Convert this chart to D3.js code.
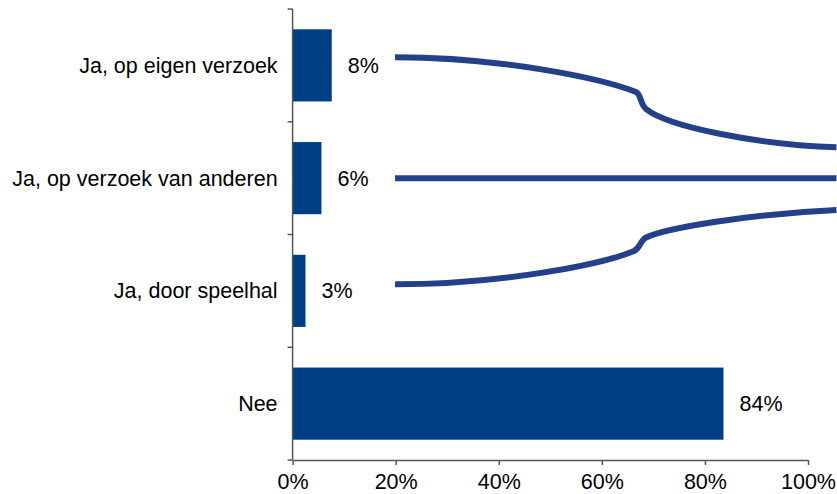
<!DOCTYPE html>
<html>
<head>
<meta charset="utf-8">
<script src="https://cdn.jsdelivr.net/npm/d3@7"></script>
<style>
  html, body { margin: 0; padding: 0; background: #fff; }
  svg { display: block; font-family: "Liberation Sans", Arial, sans-serif; }
</style>
</head>
<body>
<svg id="chart" width="837" height="494"></svg>
<script>
// ---- data ----
const categories = ["Ja, op eigen verzoek", "Ja, op verzoek van anderen", "Ja, door speelhal", "Nee"];
const values = [7.6, 5.6, 2.5, 83.6];
const valueLabels = ["8%", "6%", "3%", "84%"];
const xTicks = [0, 20, 40, 60, 80, 100];
// decorative connectors (cubic Bezier segments): x in %, y in category-band units (0 = top of plot, 4 = bottom)
const connectorTopStart = [19.88, 0.4284];
const connectorTop = [
  [[40.25, 0.4284], [59.65, 0.6120], [66.63, 0.7361]],
  [[67.60, 0.7539], [67.41, 0.8426], [68.57, 0.8869]],
  [[72.84, 1.0466], [90.69, 1.2062], [105.53, 1.2266]]
];
const connectorMidStart = [19.88, 1.5016];
const connectorMid = [
  [[50.0, 1.5016], [80.0, 1.5016], [105.53, 1.5016]]
];
const connectorBottomStart = [19.88, 2.4417];
const connectorBottom = [
  [[40.25, 2.4417], [59.65, 2.2705], [66.25, 2.1463]],
  [[67.41, 2.1197], [67.22, 2.0754], [68.38, 2.0310]],
  [[72.26, 1.9424], [88.75, 1.8182], [105.53, 1.7827]]
];

(function () {
// ---- layout ----
const pLeft = 292.6, pRight = 808, pTop = 9, pBottom = 460;
const svg = d3.select("#chart");
const x = d3.scaleLinear().domain([0, 100]).range([pLeft, pRight]);
const y = d3.scaleBand().domain(categories).range([pTop, pBottom]).paddingInner(0.36).paddingOuter(0.18);
const yUnit = d3.scaleLinear().domain([0, 4]).range([pTop, pBottom]);

const barColor = "#003f84";
const lineColor = "#25408a";
const axisColor = "#555";
const fontSize = 21.5;

// bars
svg.append("g").selectAll("rect").data(categories).join("rect")
  .attr("x", x(0))
  .attr("y", d => y(d))
  .attr("width", (d, i) => x(values[i]) - x(0))
  .attr("height", y.bandwidth())
  .attr("fill", barColor);

// value labels
svg.append("g").selectAll("text").data(categories).join("text")
  .attr("x", (d, i) => x(values[i]) + 16)
  .attr("y", d => y(d) + y.bandwidth() / 2)
  .attr("dy", "0.35em")
  .attr("font-size", fontSize)
  .attr("fill", "#000")
  .text((d, i) => valueLabels[i]);

// category labels
svg.append("g").selectAll("text").data(categories).join("text")
  .attr("x", pLeft - 15)
  .attr("y", d => y(d) + y.bandwidth() / 2)
  .attr("dy", "0.35em")
  .attr("text-anchor", "end")
  .attr("font-size", fontSize)
  .attr("fill", "#000")
  .text(d => d);

// connectors
function connectorPath(start, segs) {
  const p = d3.path();
  p.moveTo(x(start[0]), yUnit(start[1]));
  segs.forEach(s => p.bezierCurveTo(x(s[0][0]), yUnit(s[0][1]), x(s[1][0]), yUnit(s[1][1]), x(s[2][0]), yUnit(s[2][1])));
  return p.toString();
}
svg.append("g").selectAll("path")
  .data([[connectorTopStart, connectorTop], [connectorMidStart, connectorMid], [connectorBottomStart, connectorBottom]])
  .join("path")
  .attr("d", d => connectorPath(d[0], d[1]))
  .attr("fill", "none")
  .attr("stroke", lineColor)
  .attr("stroke-width", 6);

// x axis
const xAxis = svg.append("g").attr("transform", `translate(0,${pBottom})`)
  .call(d3.axisBottom(x).tickValues(xTicks).tickFormat(d => d + "%").tickSize(5).tickSizeOuter(0).tickPadding(9));
xAxis.select(".domain").attr("stroke", axisColor).attr("stroke-width", 1.5);
xAxis.selectAll(".tick line").attr("stroke", axisColor).attr("stroke-width", 1.5);
xAxis.selectAll(".tick text").attr("font-size", fontSize).attr("fill", "#000")
  .attr("font-family", "Liberation Sans, Arial, sans-serif");

// y axis (line with ticks at band boundaries)
const yAxisG = svg.append("g");
yAxisG.append("line")
  .attr("x1", x(0)).attr("x2", x(0)).attr("y1", pTop).attr("y2", pBottom)
  .attr("stroke", axisColor).attr("stroke-width", 1.5);
const boundaries = d3.range(0, categories.length + 1);
yAxisG.selectAll("line.tick").data(boundaries).join("line")
  .attr("class", "tick")
  .attr("x1", x(0) - 5).attr("x2", x(0))
  .attr("y1", d => yUnit(d)).attr("y2", d => yUnit(d))
  .attr("stroke", axisColor).attr("stroke-width", 1.5);
})();
</script>
</body>
</html>
